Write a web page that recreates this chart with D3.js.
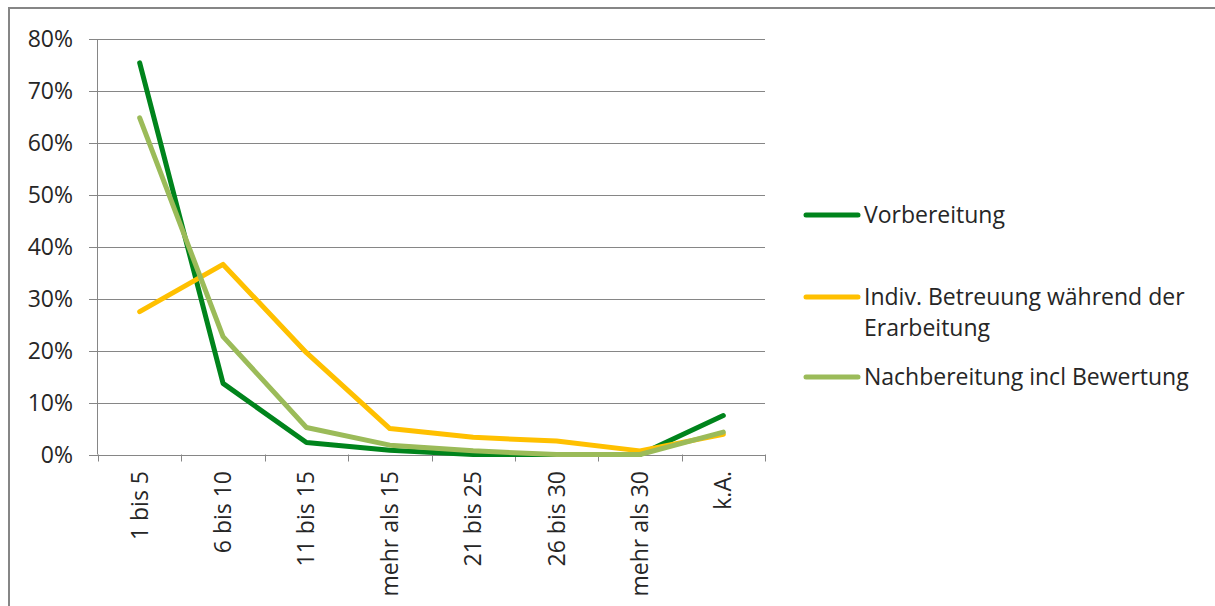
<!DOCTYPE html>
<html>
<head>
<meta charset="utf-8">
<script src="https://cdn.jsdelivr.net/npm/d3@7"></script>
<style>
  body { margin: 0; background: #fff; }
  text { font-family: "Open Sans", sans-serif; fill: #262626; }
</style>
</head>
<body>
<svg width="1215" height="606"></svg>
<script>
// categories and series (percent)
const categories = ['1 bis 5', '6 bis 10', '11 bis 15', 'mehr als 15', '21 bis 25', '26 bis 30', 'mehr als 30', 'k.A.'];
const vorbereitung = [75.4, 13.7, 2.3, 0.8, 0, 0, 0, 7.5];
const betreuung = [27.5, 36.6, 19.6, 5.0, 3.3, 2.6, 0.7, 3.9];
const nachbereitung = [64.8, 22.7, 5.2, 1.8, 0.7, 0, 0, 4.3];
const seriesNames = ['Vorbereitung', 'Indiv. Betreuung während der Erarbeitung', 'Nachbereitung incl Bewertung'];
const yTicks = [0, 10, 20, 30, 40, 50, 60, 70, 80];

const series = [
  { name: seriesNames[0], values: vorbereitung, color: '#00841C' },
  { name: seriesNames[1], values: betreuung, color: '#FFC000' },
  { name: seriesNames[2], values: nachbereitung, color: '#9BBB59' },
];

const fontSize = '23px';
const svg = d3.select('svg');

// outer frame
svg.append('rect')
  .attr('x', 9).attr('y', 8)
  .attr('width', 1230).attr('height', 620)
  .attr('fill', 'none').attr('stroke', '#868686').attr('stroke-width', 2);

const x = d3.scaleBand().domain(categories).range([98, 765]);
const y = d3.scaleLinear().domain([0, 80]).range([454.5, 39]);

// gridlines
svg.append('g')
  .selectAll('line')
  .data(yTicks)
  .join('line')
  .attr('x1', 89).attr('x2', 765)
  .attr('y1', (d) => Math.round(y(d)) + 0.5).attr('y2', (d) => Math.round(y(d)) + 0.5)
  .attr('stroke', '#868686').attr('stroke-width', 1);

// y axis line
svg.append('line')
  .attr('x1', 97.5).attr('x2', 97.5).attr('y1', y(80)).attr('y2', y(0))
  .attr('stroke', '#868686');

// y labels
svg.append('g')
  .selectAll('text')
  .data(yTicks)
  .join('text')
  .attr('x', 73)
  .attr('y', (d) => y(d) + 8)
  .attr('text-anchor', 'end')
  .style('font-size', fontSize)
  .text((d) => d + '%');

// x axis ticks
const xTickPos = categories.map((c) => x(c)).concat([x.range()[1]]);
svg.append('g')
  .selectAll('line')
  .data(xTickPos)
  .join('line')
  .attr('x1', (d) => Math.round(d) + 0.5).attr('x2', (d) => Math.round(d) + 0.5)
  .attr('y1', y(0)).attr('y2', y(0) + 7)
  .attr('stroke', '#868686');

// x labels, rotated
svg.append('g')
  .selectAll('text')
  .data(categories)
  .join('text')
  .attr('transform', (d) => `translate(${x(d) + x.bandwidth() / 2 + 8}, 471) rotate(-90)`)
  .attr('text-anchor', 'end')
  .style('font-size', fontSize)
  .text((d) => d);

// lines
const line = d3.line()
  .x((d, i) => x(categories[i]) + x.bandwidth() / 2)
  .y((d) => y(d));

svg.append('g')
  .selectAll('path')
  .data(series)
  .join('path')
  .attr('d', (d) => line(d.values))
  .attr('fill', 'none')
  .attr('stroke', (d) => d.color)
  .attr('stroke-width', 5)
  .attr('stroke-linejoin', 'round')
  .attr('stroke-linecap', 'round');

// legend
const legendY = [215, 297, 377];
const legend = svg.append('g');
series.forEach((s, i) => {
  legend.append('line')
    .attr('x1', 806).attr('x2', 858)
    .attr('y1', legendY[i]).attr('y2', legendY[i])
    .attr('stroke', s.color).attr('stroke-width', 5)
    .attr('stroke-linecap', 'round');
});
const legendText = [['Vorbereitung'], ['Indiv. Betreuung während der', 'Erarbeitung'], ['Nachbereitung incl Bewertung']];
legendText.forEach((lines, i) => {
  lines.forEach((t, j) => {
    legend.append('text')
      .attr('x', 864)
      .attr('y', legendY[i] + 8 + j * 31)
      .style('font-size', fontSize)
      .text(t);
  });
});
</script>
</body>
</html>
